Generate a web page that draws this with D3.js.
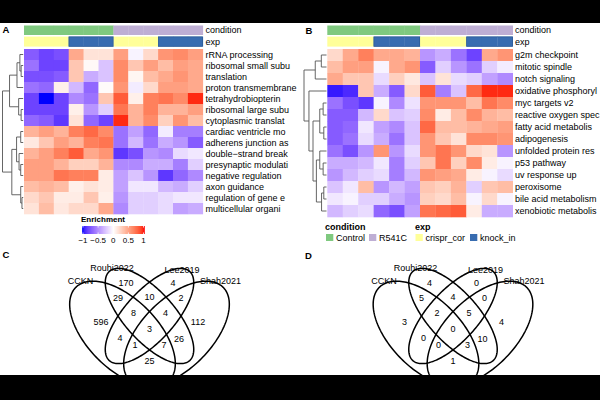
<!DOCTYPE html>
<html><head><meta charset="utf-8">
<script src="https://cdn.jsdelivr.net/npm/d3@7"></script>
<style>body{margin:0;background:#fff}svg{display:block;font-family:"Liberation Sans",Arial,Helvetica,sans-serif}</style>
</head><body><svg id="c" width="600" height="400"></svg>
<script>
// ---------------- DATA ----------------
const rowsA = ["rRNA processing","ribosomal small subu","translation","proton transmembrane","tetrahydrobiopterin","ribosomal large subu","cytoplasmic translat","cardiac ventricle mo","adherens junction as","double\u2212strand break","presynaptic modulati","negative regulation","axon guidance","regulation of gene e","multicellular organi"];
const valuesA = [
 [-0.7,-0.8,-0.75,0.45,0.15,0.15,0.5,-0.05,0.2,0.55,0.6,0.5],
 [-0.6,-0.8,-0.8,0.3,0.03,-0.25,0.6,0.3,0.5,0.35,0.5,0.45],
 [-0.75,-0.75,-0.7,0.3,-0.35,-0.25,0.6,0.05,0.35,0.45,0.55,0.45],
 [-0.6,-0.65,0.08,-0.3,-0.65,0.02,0.55,-0.08,0.2,0.5,0.5,0.45],
 [-0.8,-1.0,-0.8,-0.5,-0.6,0.3,0.8,0.08,0.65,0.7,0.6,0.95],
 [-0.8,-0.8,-0.8,0.08,-0.45,-0.2,0.7,0.4,0.65,0.4,0.4,0.5],
 [-0.65,-0.7,-0.85,0.15,-0.65,-0.8,0.95,0.4,0.6,0.25,0.55,0.35],
 [0.4,0.5,0.4,0.65,0.75,0.6,-0.6,-0.4,-0.65,-0.08,-0.55,-0.55],
 [0.12,0.3,0.5,0.4,0.65,0.7,-0.6,-0.3,-0.6,-0.35,-0.45,-0.7],
 [0.4,0.5,0.65,0.8,0.45,0.55,-0.85,-0.75,-0.45,-0.5,-0.15,-0.1],
 [0.5,0.5,0.4,0.25,0.25,0.4,-0.5,-0.5,-0.35,-0.35,-0.55,-0.2],
 [0.5,0.5,0.7,0.65,0.65,0.1,-0.4,-0.25,-0.45,-0.85,-0.65,-0.5],
 [0.35,0.4,0.35,0.08,0.15,0.1,-0.4,-0.1,-0.1,-0.3,-0.35,-0.2],
 [0.2,0.3,0.1,0.1,0.3,0.08,-0.45,-0.2,-0.2,-0.15,-0.1,-0.1],
 [0.15,0.35,0.12,0.2,0.2,0.45,-0.5,-0.2,-0.2,-0.15,-0.4,-0.35]
];
const rowsB = ["g2m checkpoint","mitotic spindle","notch signaling","oxidative phosphoryl","myc targets v2","reactive oxygen spec","fatty acid metabolis","adipogenesis","unfolded protein res","p53 pathway","uv response up","peroxisome","bile acid metabolism","xenobiotic metabolis"];
const valuesB = [
 [0.2,0.45,0.65,0.45,0.45,0.4,-0.45,-0.35,-0.6,-0.8,0.45,0.55],
 [0.35,0.5,0.5,-0.05,0.45,0.55,-0.7,-0.2,-0.45,-0.6,-0.2,-0.08],
 [0.45,0.3,0.3,-0.15,0.25,0.12,-0.25,0.15,-0.15,-0.2,-0.4,-0.5],
 [-0.95,-0.9,0.3,-0.35,-0.7,0.2,0.8,-0.55,-0.25,0.75,0.95,0.95],
 [-0.6,-0.75,-0.85,-0.05,-0.5,-0.12,0.55,0.55,0.55,0.35,0.7,0.6],
 [-0.7,-0.7,-0.3,0.2,-0.25,-0.2,0.6,0.1,0.35,0.6,0.4,0.35],
 [-0.7,-0.65,-0.1,-0.4,-0.5,-0.25,0.75,0.35,0.35,0.4,0.45,0.5],
 [-0.7,-0.6,-0.15,-0.35,-0.6,-0.25,0.55,0.3,0.15,0.6,0.6,0.55],
 [-0.6,-0.75,-0.45,0.55,-0.45,-0.15,0.55,0.7,0.55,0.2,0.15,-0.45],
 [-0.35,-0.35,-0.3,-0.1,-0.55,-0.2,0.3,0.7,0.25,0.6,0.1,-0.05],
 [-0.45,-0.3,-0.2,-0.15,-0.55,-0.3,0.55,0.5,0.45,0.1,-0.05,-0.15],
 [-0.25,-0.1,0.35,-0.45,-0.3,-0.4,0.3,0.25,0.4,-0.2,0.3,0.35],
 [-0.1,-0.05,-0.2,-0.2,-0.35,-0.45,0.25,0.2,0.35,-0.05,0.2,-0.05],
 [-0.3,-0.2,-0.15,-0.65,-0.75,-0.4,0.7,0.75,0.8,0.1,-0.35,-0.35]
];
const conditionCols = ["Control","Control","Control","Control","Control","Control","R541C","R541C","R541C","R541C","R541C","R541C"];
const expCols = ["crispr_cor","crispr_cor","crispr_cor","knock_in","knock_in","knock_in","crispr_cor","crispr_cor","crispr_cor","knock_in","knock_in","knock_in"];
const conditionLevels = ["Control","R541C"];
const expLevels = ["crispr_cor","knock_in"];
const legendTicks = [-1,-0.5,0,0.5,1];
const N = (h,a,b)=>({h,c:[a,b]});
const treeA = N(1,
  N(0.66, N(0.3, N(0.16, 0, N(0.1,1,2)), 3), N(0.22, 4, N(0.1,5,6))),
  N(0.55, N(0.32, N(0.12,7,8), N(0.2, 9, N(0.12,10,11))), N(0.12, 12, N(0.06,13,14))));
const treeB = N(1,
  N(0.5, N(0.23,0,1), 2),
  N(0.78, 3, N(0.6, N(0.3, N(0.15,4,5), N(0.12,6,7)), N(0.45, N(0.3, 8, N(0.15,9,10)), N(0.22, N(0.12,11,12), 13)))));
const vennSets = ["CCKN","Rouhi2022","Lee2019","Shah2021"];
// region order: B, C, AB, BC, CD, ABC, BCD, A, D, ABCD, AC, BD, ACD, ABD, AD
const vennC = [170,4,29,10,2,8,4,596,112,3,4,26,1,7,25];
const vennD = [4,0,5,4,0,2,5,3,4,0,0,10,0,3,1];

// ---------------- LAYOUT ----------------
const svg = d3.select("#c");
const color = d3.scaleLinear().domain([-1,0,1]).range(["#0000ff","#ffffff","#ff0000"]).interpolate(d3.interpolateLab);
const annColor = d3.scaleOrdinal().domain(["Control","R541C","crispr_cor","knock_in"]).range(["#7FC97F","#BEAED4","#FFFF99","#386CB0"]);

function heatmap(o){
  const g = svg.append("g");
  const nr = o.rows.length;
  const x = d3.scaleBand().domain(d3.range(12)).range([o.x0,o.x1]);
  const y = d3.scaleBand().domain(d3.range(nr)).range([o.y0,o.y0+o.rowH*nr]);
  const cells = o.values.flatMap((r,i)=>r.map((v,j)=>({i,j,v})));
  g.selectAll("rect.cell").data(cells).join("rect").attr("class","cell")
    .attr("x",d=>x(d.j)).attr("y",d=>y(d.i)).attr("width",x.bandwidth()+0.3).attr("height",y.bandwidth()+0.3)
    .attr("fill",d=>color(d.v));
  const ann = [[conditionCols,25.5,9.5],[expCols,36.6,10]];
  ann.forEach(([vals,yy,hh])=>{
    g.selectAll(null).data(vals).join("rect")
      .attr("x",(d,j)=>x(j)).attr("y",yy).attr("width",x.bandwidth()+0.3).attr("height",hh)
      .attr("fill",d=>annColor(d));
  });
  [[3,6],[9,12]].forEach(([a,b])=>{
    g.append("rect").attr("x",x(a)+0.3).attr("y",36.9).attr("width",x(b-1)+x.bandwidth()-x(a)-0.6).attr("height",9.4)
     .attr("fill","none").attr("stroke","#2c5a94").attr("stroke-width",0.7);
  });
  g.append("text").attr("x",o.labelX).attr("y",30.3).attr("dy","0.35em").attr("font-size",9).text("condition");
  g.append("text").attr("x",o.labelX).attr("y",41.6).attr("dy","0.35em").attr("font-size",9).text("exp");
  g.selectAll("text.row").data(o.rows).join("text").attr("class","row")
    .attr("x",o.labelX).attr("y",(d,i)=>y(i)+y.bandwidth()/2).attr("dy","0.35em").attr("font-size",9).text(d=>d);
  const hx = d3.scaleLinear().domain([0,1]).range([o.leafX,o.rootX]);
  const p = d3.path();
  function walk(n){
    if (typeof n === "number") return {x:hx(0), y:y(n)+y.bandwidth()/2};
    const a = walk(n.c[0]), b = walk(n.c[1]);
    const nx = hx(n.h);
    p.moveTo(a.x,a.y); p.lineTo(nx,a.y); p.lineTo(nx,b.y); p.lineTo(b.x,b.y);
    return {x:nx, y:(a.y+b.y)/2};
  }
  walk(o.tree);
  g.append("path").attr("d",p.toString()).attr("fill","none").attr("stroke","#555").attr("stroke-width",0.9);
}

heatmap({rows:rowsA, values:valuesA, x0:24, x1:202.8, y0:49, rowH:11, labelX:205.5, tree:treeA, leafX:23.2, rootX:2.5});
heatmap({rows:rowsB, values:valuesB, x0:327.3, x1:512.7, y0:49, rowH:12, labelX:515, tree:treeB, leafX:326.5, rootX:304});

// Enrichment legend
(function(){
  const g = svg.append("g");
  const lx = d3.scaleLinear().domain([-1,1]).range([83,143.5]);
  g.append("text").attr("x",81).attr("y",219.3).attr("dy","0.35em").attr("font-size",8).attr("font-weight","bold").text("Enrichment");
  const steps = d3.range(-1.03,1.03,0.01);
  g.selectAll(null).data(steps).join("rect").attr("x",d=>lx(d)).attr("y",226).attr("width",lx(0.02)-lx(0)).attr("height",8)
    .attr("fill",d=>color(Math.max(-1,Math.min(1,d))));
  g.selectAll(null).data(legendTicks).join("line").attr("x1",d=>lx(d)).attr("x2",d=>lx(d)).attr("y1",226).attr("y2",227.5).attr("stroke","#fff").attr("stroke-width",0.8);
  g.selectAll(null).data(legendTicks).join("line").attr("x1",d=>lx(d)).attr("x2",d=>lx(d)).attr("y1",232.5).attr("y2",234).attr("stroke","#fff").attr("stroke-width",0.8);
  g.selectAll(null).data(legendTicks).join("text").attr("x",d=>lx(d)).attr("y",240).attr("dy","0.35em").attr("text-anchor","middle").attr("font-size",8)
    .text(d=>d3.format("")(d).replace("-","\u2212"));
})();

// Annotation legend B
(function(){
  const g = svg.append("g");
  g.append("text").attr("x",325).attr("y",226.5).attr("dy","0.35em").attr("font-size",9).attr("font-weight","bold").text("condition");
  g.append("text").attr("x",415).attr("y",226.5).attr("dy","0.35em").attr("font-size",9).attr("font-weight","bold").text("exp");
  const items = [[conditionLevels[0],326],[conditionLevels[1],369],[expLevels[0],415.5],[expLevels[1],470]];
  items.forEach(([lab,xx])=>{
    g.append("rect").attr("x",xx).attr("y",234).attr("width",7.3).attr("height",7).attr("fill",annColor(lab));
    g.append("text").attr("x",xx+10).attr("y",237.7).attr("dy","0.35em").attr("font-size",9).text(lab);
  });
})();

// Venn diagrams (geometry in offsets from the diagram origin)
const ellipses = [
  {cx:-27, cy:14, a:66, b:35, rot:45},
  {cx:0, cy:-4, a:60, b:25, rot:48},
  {cx:0, cy:-4, a:60, b:25, rot:-48},
  {cx:27, cy:14, a:66, b:35, rot:-45}];
const regionPos = [[-23.5,-37],[23.5,-37],[-31.5,-22.5],[0,-23.5],[31.5,-22.5],[-16,-7],[16,-7],[-48.5,2],[48.5,1.5],[0,8.5],[-29.5,18],[29.5,18.5],[-14.5,25],[14.5,25],[0,41]];
const catPos = [[-69,-39.5],[-37.5,-52],[32.5,-50.5],[71,-39.5]];
function venn(counts, ox, oy){
  const g = svg.append("g");
  const vx = d3.scaleLinear().domain([-100,100]).range([ox-100, ox+100]);
  const vy = d3.scaleLinear().domain([-100,100]).range([oy-100, oy+100]);
  const line = d3.line().x(d=>vx(d[0])).y(d=>vy(d[1])).curve(d3.curveLinearClosed);
  ellipses.forEach(e=>{
    const f = e.rot*Math.PI/180;
    const pts = d3.range(0,2*Math.PI,Math.PI/90).map(t=>[e.cx + e.a*Math.cos(t)*Math.cos(f) - e.b*Math.sin(t)*Math.sin(f), e.cy + e.a*Math.cos(t)*Math.sin(f) + e.b*Math.sin(t)*Math.cos(f)]);
    g.append("path").attr("d",line(pts)).attr("fill","none").attr("stroke","#000").attr("stroke-width",1.5);
  });
  g.selectAll(null).data(counts).join("text").attr("x",(d,i)=>vx(regionPos[i][0])).attr("y",(d,i)=>vy(regionPos[i][1]))
    .attr("dy","0.35em").attr("text-anchor","middle").attr("font-size",9).text(d=>d);
  g.selectAll(null).data(vennSets).join("text").attr("x",(d,i)=>vx(catPos[i][0])).attr("y",(d,i)=>vy(catPos[i][1]))
    .attr("dy","0.35em").attr("text-anchor","middle").attr("font-size",9).text(d=>d);
}
venn(vennC, 149.5, 320);
venn(vennD, 453, 320);

// panel letters
[["A",2.5,30],["B",305.5,31],["C",2.5,255],["D",305,256]].forEach(([t,xx,yy])=>{
  svg.append("text").attr("x",xx).attr("y",yy).attr("dy","0.35em").attr("font-size",9.5).attr("font-weight","bold").text(t);
});

// letterbox bars
svg.append("rect").attr("x",0).attr("y",0).attr("width",600).attr("height",23).attr("fill","#000");
svg.append("rect").attr("x",0).attr("y",375).attr("width",600).attr("height",25).attr("fill","#000");
</script></body></html>
